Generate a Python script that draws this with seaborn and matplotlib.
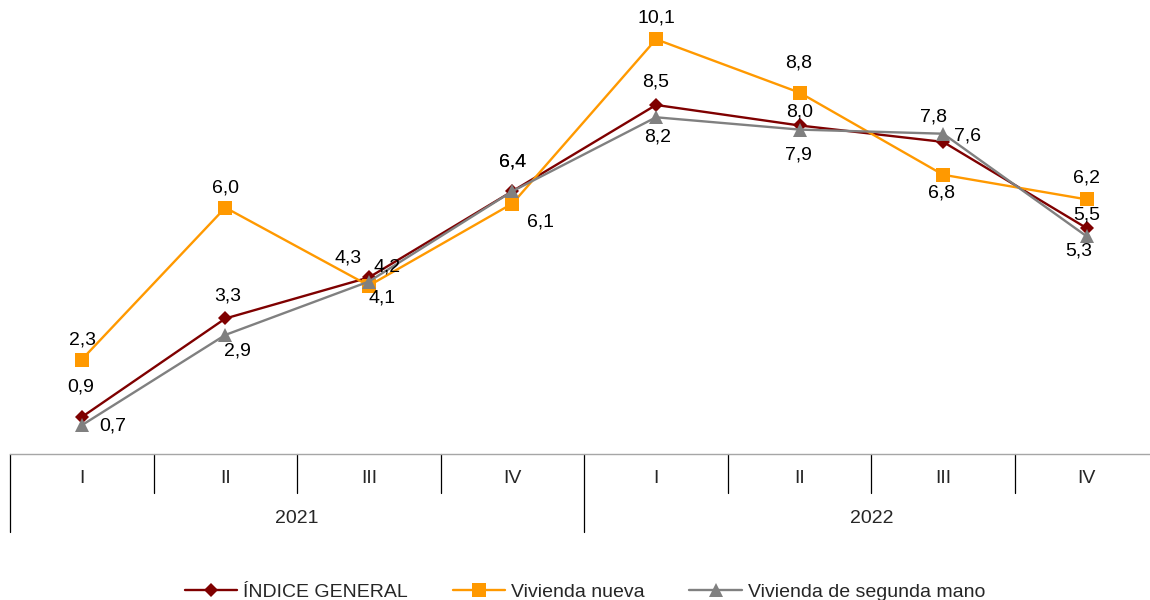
import matplotlib.pyplot as plt
import matplotlib.transforms as mtransforms
import numpy as np
import pandas as pd
import seaborn as sns

# data
quarters = ['I', 'II', 'III', 'IV', 'I', 'II', 'III', 'IV']
years = ['2021', '2022']
series_names = ['ÍNDICE GENERAL', 'Vivienda nueva', 'Vivienda de segunda mano']
indice_general = [0.9, 3.3, 4.3, 6.4, 8.5, 8.0, 7.6, 5.5]
vivienda_nueva = [2.3, 6.0, 4.1, 6.1, 10.1, 8.8, 6.8, 6.2]
vivienda_segunda = [0.7, 2.9, 4.2, 6.4, 8.2, 7.9, 7.8, 5.3]

colors = ['#7F0000', '#FF9900', '#808080']
markers = ['D', 's', '^']
msizes = [7, 10.5, 10]

# data label offsets (pixels)
offsets = [
    [(-1, 30), (2, 22), (-21, 19), (0, 29), (0, 23), (0, 13), (24, 6), (0, 13)],
    [(1, 20), (0, 20), (13, -12), (28, -18), (0, 21), (-1, 30), (-2, -18), (0, 21)],
    [(31, -1), (12, -16), (18, 15), (0, 29), (2, -20), (-1, -25), (-10, 17), (-8, -15)],
]

values = [indice_general, vivienda_nueva, vivienda_segunda]
n = len(quarters)
df = pd.DataFrame({
    'pos': np.tile(np.arange(n), 3),
    'valor': indice_general + vivienda_nueva + vivienda_segunda,
    'serie': np.repeat(series_names, n),
})

sns.set_style('white')
plt.rcParams['font.family'] = ['Liberation Sans', 'DejaVu Sans']

fig = plt.figure(figsize=(11.5, 6), dpi=100)
ax = fig.add_axes([10 / 1150, 146 / 600, 1148.5 / 1150, 451.7 / 600])

for name, c, m, ms in zip(series_names, colors, markers, msizes):
    sns.lineplot(data=df[df.serie == name], x='pos', y='valor', color=c,
                 marker=m, markersize=ms, markeredgecolor=c, markeredgewidth=0,
                 linewidth=1.7, label=name, ax=ax)

for vals, offs in zip(values, offsets):
    for i, (v, o) in enumerate(zip(vals, offs)):
        ax.annotate(f'{v:.1f}'.replace('.', ','), (i, v), xytext=o,
                    textcoords='offset pixels', ha='center', va='center',
                    fontsize=14, color='black')

ax.set_xlim(-0.5, n - 0.5)
ax.set_ylim(0, 11)
ax.set_yticks([])
ax.set_xlabel('')
ax.set_ylabel('')
for s in ['left', 'right', 'top']:
    ax.spines[s].set_visible(False)
ax.spines['bottom'].set_color('#A6A6A6')
ax.spines['bottom'].set_linewidth(1)
ax.set_xticks(range(n), quarters)
ax.tick_params(axis='x', length=0, pad=11.5, labelsize=14)

# category separators
trans = mtransforms.blended_transform_factory(ax.transData, ax.transAxes)
per_year = n // len(years)
for b in np.arange(-0.5, n, 1):
    long = (b + 0.5) % per_year == 0
    ax.plot([b, b], [0, -0.1727 if long else -0.0863], color='black',
            lw=0.9, transform=trans, clip_on=False)
for k, y in enumerate(years):
    ax.text(k * per_year + (per_year - 1) / 2, -0.1417, y, transform=trans,
            ha='center', va='center', fontsize=14)

handles, labels = ax.get_legend_handles_labels()
ax.get_legend().remove()
fig.legend(handles, labels, loc='center', bbox_to_anchor=(585 / 1150, 8 / 600),
           ncol=3, frameon=False, fontsize=14, handlelength=2.7,
           handletextpad=0.3, columnspacing=2.3)

fig.savefig('out.png', dpi=100)
